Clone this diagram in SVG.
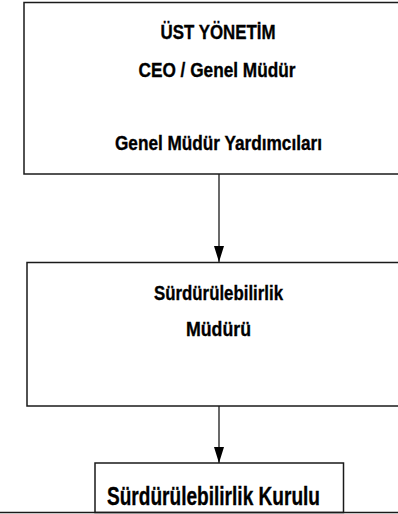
<svg xmlns="http://www.w3.org/2000/svg" width="398" height="514" viewBox="0 0 398 514">
  <style>
    .box { fill: #ffffff; stroke: #1a1a1a; stroke-width: 1.5; }
    .edge { stroke: #1a1a1a; stroke-width: 1.3; fill: none; }
    .t { font-family: "Liberation Sans", Arial, sans-serif; font-weight: bold; fill: #000000; stroke: #000000; stroke-width: 0.35; text-anchor: middle; }
    .s1 { font-size: 20px; }
    .s2 { font-size: 21px; }
    .s3 { font-size: 26px; }
  </style>
  <defs>
    <marker id="arrow" markerWidth="16" markerHeight="10" refX="16" refY="5" orient="auto" markerUnits="userSpaceOnUse" viewBox="0 0 16 10">
      <path d="M0,0 L16,5 L0,10 Z" fill="#000000"/>
    </marker>
  </defs>
  <rect width="398" height="514" fill="#ffffff"/>

  <g id="connectors">
    <line class="edge" x1="219" y1="174" x2="219" y2="262" marker-end="url(#arrow)"/>
    <line class="edge" x1="219" y1="406" x2="219" y2="463" marker-end="url(#arrow)"/>
  </g>

  <g id="ust-yonetim">
    <rect class="box" x="24" y="2.5" width="390" height="171.5"/>
    <text class="t s1" x="218" y="39" textLength="115" lengthAdjust="spacingAndGlyphs">ÜST YÖNETİM</text>
    <text class="t s1" x="217" y="76.5" textLength="157" lengthAdjust="spacingAndGlyphs">CEO / Genel Müdür</text>
    <text class="t s1" x="218.5" y="149.5" textLength="207" lengthAdjust="spacingAndGlyphs">Genel Müdür Yardımcıları</text>
  </g>

  <g id="surdurulebilirlik-muduru">
    <rect class="box" x="27" y="262.5" width="390" height="143.5"/>
    <text class="t s2" x="218.5" y="300" textLength="129" lengthAdjust="spacingAndGlyphs">Sürdürülebilirlik</text>
    <text class="t s2" x="218.5" y="336" textLength="65" lengthAdjust="spacingAndGlyphs">Müdürü</text>
  </g>

  <g id="surdurulebilirlik-kurulu">
    <rect class="box" x="95" y="463" width="248.5" height="49.5"/>
    <text class="t s3" x="213.5" y="505" textLength="213" lengthAdjust="spacingAndGlyphs">Sürdürülebilirlik Kurulu</text>
  </g>

  <line class="box" x1="0" y1="512.5" x2="398" y2="512.5"/>
</svg>
